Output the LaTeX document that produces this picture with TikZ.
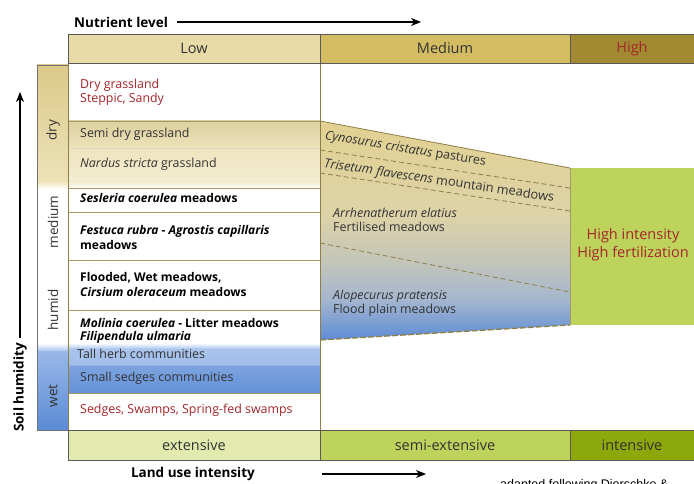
\documentclass[tikz,border=0pt]{standalone}
\usepackage{fontspec}
\setmainfont{Open Sans}
\newfontfamily\arialf{Liberation Sans}
\usetikzlibrary{arrows.meta}
\definecolor{hdrLow}{HTML}{E8DBA8}
\definecolor{hdrMed}{HTML}{D4BC62}
\definecolor{hdrHigh}{HTML}{A18A31}
\definecolor{redtxt}{HTML}{A3262A}
\definecolor{bodytxt}{HTML}{333333}
\definecolor{gridline}{HTML}{A89868}
\definecolor{tanborder}{HTML}{8E7E48}
\definecolor{extcol}{HTML}{E3EAB0}
\definecolor{semicol}{HTML}{BED35C}
\definecolor{intcol}{HTML}{8DA80A}
\definecolor{blueD}{HTML}{5B8BD5}
\definecolor{blueL}{HTML}{A9C3EC}
\definecolor{tanT}{HTML}{DCCA8A}
\definecolor{tanL}{HTML}{EDE2B8}
\definecolor{medTop}{HTML}{E2D190}
\definecolor{medMid}{HTML}{DDD3A8}
\definecolor{medGray}{HTML}{C3C5B9}
\definecolor{medBlue}{HTML}{A4B6D0}
\begin{document}
\begin{tikzpicture}[x=1pt,y=-1pt,
  txt/.style={font=\fontsize{12.4}{14}\selectfont, text=bodytxt, anchor=west, inner sep=0pt, align=left},
  redt/.style={txt, text=redtxt},
  boldt/.style={font=\fontsize{12}{14.5}\selectfont\bfseries, text=black, anchor=west, inner sep=0pt, align=left},
  hdr/.style={draw=black!65, line width=0.8pt},
  hdrtxt/.style={font=\fontsize{14.5}{16}\selectfont, text=bodytxt, inner sep=0pt},
  sidetxt/.style={font=\fontsize{13.5}{16}\selectfont, text=bodytxt, rotate=90, inner sep=0pt},
  axistxt/.style={font=\fontsize{13.5}{16}\selectfont\bfseries, text=black, inner sep=0pt},
  axisarrow/.style={line width=1.1pt, -{Stealth[length=10pt,width=8pt,inset=3pt]}},
  sepln/.style={draw=gridline, line width=0.6pt},
  dashln/.style={draw=tanborder, dash pattern=on 5pt off 3pt, line width=0.8pt}
]
\useasboundingbox (0,0) rectangle (694,484);
\fill[white] (0,0) rectangle (694,484);

% ---------- left humidity strip ----------
\shade[top color=tanT, bottom color=tanL] (37,65) rectangle (68,181);
\shade[top color=tanL, bottom color=white] (37,181) rectangle (68,189);
\shade[top color=white, bottom color=blueL] (37,343) rectangle (68,351);
\shade[top color=blueL!80!blueD, bottom color=blueD] (37,351) rectangle (68,430);
\draw[black!55, line width=0.8pt] (37,65) rectangle (68,430);

% ---------- Low column rows ----------
\shade[top color=hdrLow!95!black, bottom color=hdrLow!80!white] (68,121) rectangle (320,148);
\shade[top color=hdrLow!75!white, bottom color=hdrLow!50!white] (68,148) rectangle (320,182);
\shade[top color=hdrLow!50!white, bottom color=white] (68,182) rectangle (320,189);
\shade[top color=white, bottom color=blueL] (68,343) rectangle (320,349);
\shade[top color=blueL, bottom color=blueL!90!blueD] (68,349) rectangle (320,365);
\shade[top color=blueL!45!blueD, bottom color=blueD!90!blueL] (68,365) rectangle (320,393);

\draw[sepln] (68,121) -- (320,121);
\draw[gridline!40, line width=0.5pt] (68,148) -- (320,148);
\draw[sepln] (68,188) -- (320,188);
\draw[sepln] (68,212) -- (320,212);
\draw[sepln] (68,260) -- (320,260);
\draw[sepln] (68,310) -- (320,310);
\draw[blueL!70!blueD, line width=0.5pt] (68,365) -- (320,365);
\draw[sepln] (68,393) -- (320,393);
\draw[tanborder, line width=1pt] (68,63) rectangle (320,430);

% ---------- Medium region ----------
\begin{scope}
  \clip (320,121) -- (570,168) -- (570,325) -- (320,340) -- cycle;
  \shade[top color=medTop, bottom color=medMid] (320,120) rectangle (570,215);
  \shade[top color=medMid, bottom color=medGray] (320,215) rectangle (570,262);
  \shade[top color=medGray, bottom color=medBlue] (320,262) rectangle (570,300);
  \shade[top color=medBlue, bottom color=blueD] (320,300) rectangle (570,341);
\end{scope}
\draw[tanborder, line width=0.8pt] (320,121) -- (570,168);
\draw[dashln] (320,150) -- (570,188);
\draw[dashln] (320,173) -- (570,211);
\draw[dashln] (320,243) -- (570,292);
\draw[tanborder, dash pattern=on 6pt off 2pt, line width=1.3pt] (320,340) -- (570,325);
\draw[tanborder, line width=1pt] (320,63) -- (320,430);

% ---------- High region ----------
\fill[semicol] (570,168) rectangle (694,325);
\draw[tanborder!80, line width=0.8pt] (570,168) -- (570,325);

% ---------- headers ----------
\draw[hdr, fill=hdrLow] (68,34) rectangle (320,63);
\draw[hdr, fill=hdrMed] (320,34) rectangle (570,63);
\draw[hdr, fill=hdrHigh] (570,34) rectangle (700,63);
\node[hdrtxt] (low) at (194,48.5) {Low};
\node[hdrtxt] (med) at (445,48.5) {Medium};
\node[hdrtxt, text=redtxt] (high) at (632,48.5) {High};

\draw[hdr, fill=extcol] (68,430) rectangle (320,460);
\draw[hdr, fill=semicol] (320,430) rectangle (570,460);
\draw[hdr, fill=intcol] (570,430) rectangle (700,460);
\node[hdrtxt] (ext) at (194,445) {extensive};
\node[hdrtxt] (semi) at (445,445) {semi-extensive};
\node[hdrtxt] (int) at (632,445) {intensive};

% ---------- side labels ----------
\node[sidetxt] (dry) at (53,130) {dry};
\node[sidetxt] (medium) at (53,222) {medium};
\node[sidetxt] (humid) at (53,310) {humid};
\node[sidetxt] (wet) at (53,396) {wet};

% ---------- Low column texts ----------
\node[redt] (drygr) at (80,92.5) {Dry grassland\\Steppic, Sandy};
\node[txt] (semidry) at (80,134) {Semi dry grassland};
\node[txt] (nardus) at (80,164) {\textit{Nardus stricta} grassland};
\node[boldt] (sesleria) at (80,198) {\textit{Sesleria coerulea} meadows};
\node[boldt] (festuca) at (80,237.5) {\textit{Festuca rubra} - \textit{Agrostis capillaris}\\meadows};
\node[boldt] (flooded) at (80,284.5) {Flooded, Wet meadows,\\\textit{Cirsium oleraceum} meadows};
\node[boldt, font=\fontsize{12}{12.5}\selectfont\bfseries] (molinia) at (80,331) {\textit{Molinia coerulea} - Litter meadows\\\textit{Filipendula ulmaria}};
\node[txt] (tallherb) at (77,354) {Tall herb communities};
\node[txt] (sedgesc) at (80,378) {Small sedges communities};
\node[redt] (swamps) at (80,410) {Sedges, Swamps, Spring-fed swamps};

% ---------- Medium texts ----------
\node[txt, rotate=-9.5, font=\fontsize{12.6}{14}\selectfont] (cyno) at (325,136) {\textit{Cynosurus cristatus} pastures};
\node[txt, rotate=-8.5, font=\fontsize{12.8}{14}\selectfont] (trise) at (324,164) {\textit{Trisetum flavescens} mountain meadows};
\node[txt] (arrhen) at (333,220) {\textit{Arrhenatherum elatius}\\Fertilised meadows};
\node[txt] (alope) at (333,303) {\textit{Alopecurus pratensis}\\Flood plain meadows};
\node[font=\fontsize{14.5}{18}\selectfont, text=redtxt, align=center, inner sep=0pt] (highint) at (633,245) {High intensity\\High fertilization};

% ---------- axes ----------
\node[axistxt, anchor=west] (nutr) at (74,22) {Nutrient level};
\coordinate (nutrend) at (421,22);
\draw[axisarrow] (nutr.east) ++(9,0) -- (nutrend);

\node[axistxt] (landuse) at (193,474) {Land use intensity};
\coordinate (lustart) at (322,474);
\coordinate (luend) at (426,474);
\draw[axisarrow] (lustart) -- (luend);

\node[axistxt, rotate=90, anchor=west] (soil) at (20,432) {Soil humidity};
\coordinate (soilend) at (20,92);
\draw[axisarrow] (soil.east) ++(0,-5) -- (soilend);

\node[font=\arialf\fontsize{12.5}{14}\selectfont, anchor=base west, inner sep=0pt] (credit) at (500,488) {adapted following Dierschke \&};
\end{tikzpicture}
\end{document}
